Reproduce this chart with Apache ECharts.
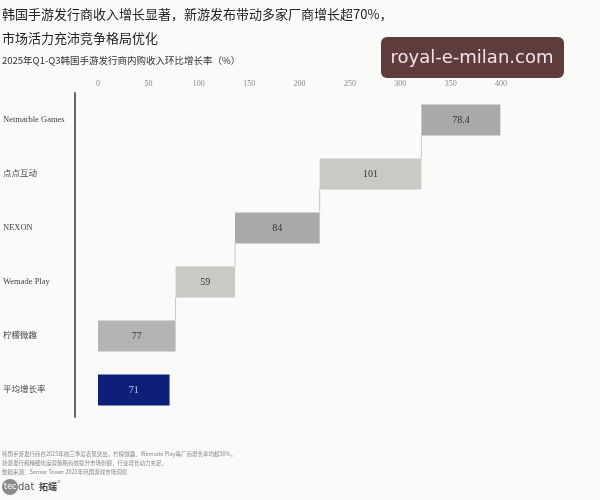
<!DOCTYPE html>
<html><head><meta charset="utf-8">
<script src="https://cdn.jsdelivr.net/npm/echarts@6/dist/echarts.min.js"></script>
<style>html,body{margin:0;padding:0;background:#fafaf8}#c{width:600px;height:500px}</style>
</head><body><div id="c"></div>
<script>
// Data (top to bottom)
const categories = ['Netmarble Games', '点点互动', 'NEXON', 'Wemade Play', '柠檬微趣', '平均增长率'];
const growth = [78.4, 101, 84, 59, 77, 71];
const startsAt = [321, 220, 136, 77, 0, 0];   // waterfall base of each bar
const tickValues = [0, 50, 100, 150, 200, 250, 300, 350, 400];

const barColors = ['#a9a9a7', '#c9c9c6', '#a9a9a7', '#c9c9c6', '#b4b4b2', '#0d1f78'];
const serif = "'Liberation Serif','Noto Sans CJK SC',serif";
const cjk = "'Noto Sans CJK SC','Liberation Serif',serif";

const chart = echarts.init(document.getElementById('c'), null, {renderer: 'canvas'});
// connector pairs: from bar i (lower) up to bar i-1 (upper) at x = start of upper bar
const connectors = [];
for (let i = categories.length - 2; i >= 1; i--) {
  connectors.push([startsAt[i - 1], i, i - 1]);
}
chart.setOption({
  backgroundColor: '#fafaf8',
  animation: false,
  title: [
    {text: '韩国手游发行商收入增长显著，新游发布带动多家厂商增长超70%，\n市场活力充沛竞争格局优化', left: 2, top: 2, padding: 0,
     textStyle: {fontFamily: cjk, fontSize: 13, fontWeight: 'normal', color: '#222', lineHeight: 24}},
    {text: '2025年Q1-Q3韩国手游发行商内购收入环比增长率（%）', left: 2, top: 56, padding: 0,
     textStyle: {fontFamily: cjk, fontSize: 9.5, fontWeight: 'normal', color: '#333'}}
  ],
  grid: {left: 98, right: 99, top: 93, bottom: 83},
  xAxis: {
    type: 'value', position: 'top', min: 0, max: 400, interval: 50,
    axisLine: {show: false}, axisTick: {show: false}, splitLine: {show: false},
    axisLabel: {fontFamily: serif, fontSize: 8, color: '#888', margin: 5}
  },
  yAxis: {
    type: 'category', data: categories, inverse: true, offset: 23,
    axisLine: {show: true, onZero: false, lineStyle: {color: '#666', width: 2}},
    axisTick: {show: false},
    axisLabel: {align: 'left', margin: 72, fontFamily: serif, fontSize: 8.5, color: '#444'}
  },
  series: [
    {type: 'bar', stack: 'w', data: startsAt, barWidth: 31, itemStyle: {color: 'transparent'}, silent: true},
    {type: 'bar', stack: 'w', barWidth: 31,
     data: growth.map((v, i) => ({value: v, itemStyle: {color: barColors[i]},
       label: {color: i === 5 ? '#b8c8ff' : '#333'}})),
     label: {show: true, position: 'inside', fontFamily: serif, fontSize: 10}},
    {type: 'custom', data: connectors, z: 1,
     renderItem: function (params, api) {
       const lo = api.coord([api.value(0), api.value(1)]);
       const hi = api.coord([api.value(0), api.value(2)]);
       return {type: 'line', shape: {x1: lo[0], y1: lo[1] - 15.5, x2: hi[0], y2: hi[1] + 15.5},
         style: {stroke: '#c8c8c8', lineWidth: 1}};
     }}
  ],
  graphic: [
    {type: 'rect', shape: {x: 381, y: 37, width: 183, height: 41, r: 6}, style: {fill: '#5e3c3a'}},
    {type: 'text', x: 472, y: 58, style: {text: 'royal-e-milan.com', fill: '#f3e3ea', font: "18px 'DejaVu Sans'", align: 'center', verticalAlign: 'middle'}},
    {type: 'text', x: 2, y: 454, style: {text: '韩国手游发行商在2025年前三季度表现突出，柠檬微趣、Wemade Play等厂商增长率均超50%。', fill: '#888', font: "5.5px 'Noto Sans CJK SC'", verticalAlign: 'middle'}},
    {type: 'text', x: 2, y: 463, style: {text: '新游发行和精细化运营策略有效提升市场份额，行业增长动力充足。', fill: '#888', font: "5.5px 'Noto Sans CJK SC'", verticalAlign: 'middle'}},
    {type: 'text', x: 2, y: 472, style: {text: '数据来源：Sensor Tower 2025年韩国游戏市场洞察', fill: '#888', font: "5.5px 'Noto Sans CJK SC'", verticalAlign: 'middle'}},
    {type: 'circle', shape: {cx: 10, cy: 487, r: 8}, style: {fill: '#8a8a8a'}},
    {type: 'text', x: 4, y: 487, style: {text: 'tec', fill: '#fff', font: "8px 'DejaVu Sans'", verticalAlign: 'middle'}},
    {type: 'text', x: 18, y: 487, style: {text: 'dat', fill: '#555', font: "10px 'DejaVu Sans'", verticalAlign: 'middle'}},
    {type: 'text', x: 39, y: 487, style: {text: '拓端', fill: '#444', font: "bold 9px 'Noto Sans CJK SC'", verticalAlign: 'middle'}},
    {type: 'text', x: 57, y: 482, style: {text: '®', fill: '#666', font: "4px 'DejaVu Sans'", verticalAlign: 'middle'}}
  ]
});
</script></body></html>
